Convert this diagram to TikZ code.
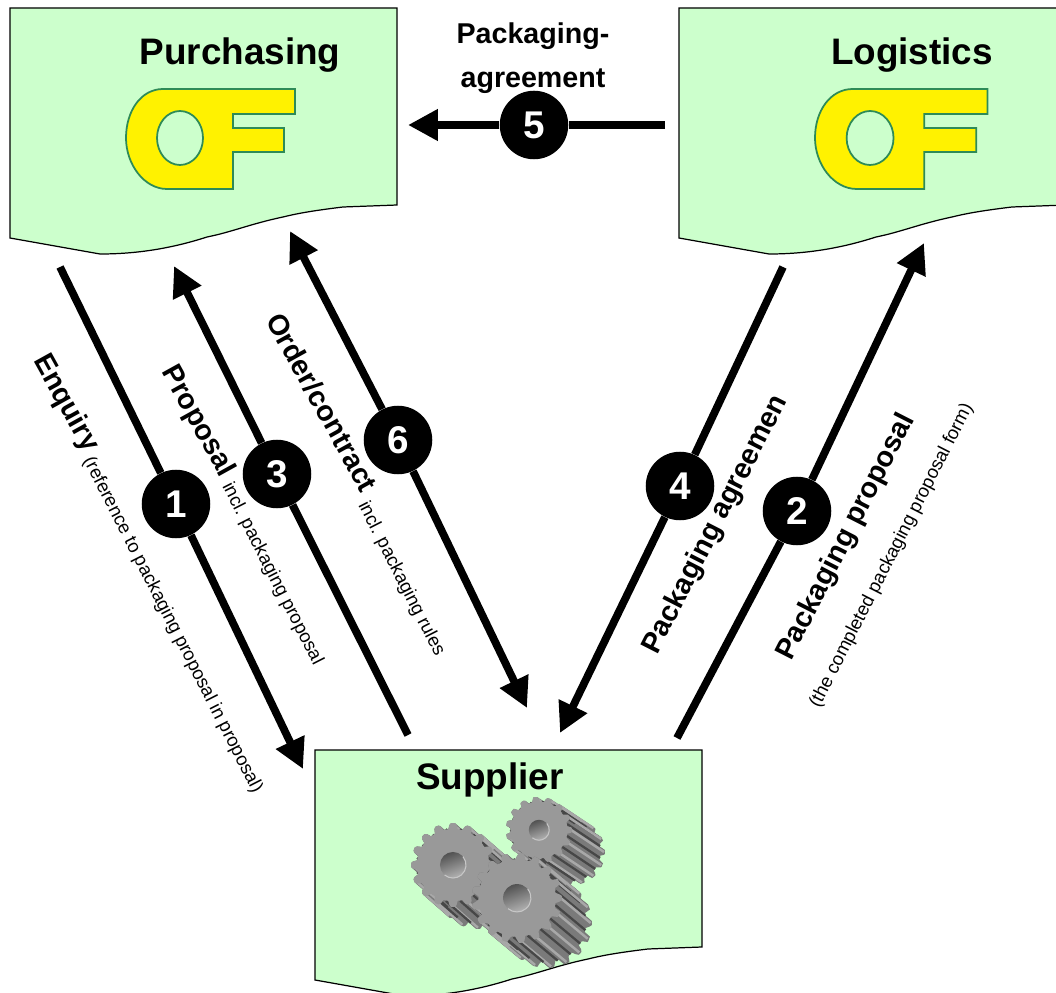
\documentclass[tikz,border=0pt]{standalone}
\usepackage{fontspec}
\setmainfont{Liberation Sans}
\usetikzlibrary{arrows.meta}
\definecolor{sheetgreen}{HTML}{CCFFCC}
\definecolor{logoyellow}{HTML}{FFF200}
\definecolor{logoedge}{HTML}{2E8B57}
\tikzset{
  flow/.style={line width=4.4pt,>={Triangle[length=17pt,width=17pt]}},
  numdot/.style={circle,fill=black,text=white,inner sep=0pt,minimum size=39pt,font=\fontsize{22}{24}\selectfont\bfseries},
  sheettitle/.style={font=\fontsize{21}{24}\selectfont\bfseries},
  flowlabel/.style={font=\fontsize{16.3}{18}\selectfont\bfseries,inner sep=0pt},
  flownote/.style={font=\fontsize{10.6}{13}\selectfont,inner sep=0pt},
  pics/docsheet/.style={code={
    \draw[fill=sheetgreen,line width=0.7pt] (0,0) -- (387,0) -- (387,197) -- (333,199)
      .. controls (300,203) and (285,206) .. (273,209)
      .. controls (240,216) and (222,224) .. (197,229)
      .. controls (160,241) and (125,246) .. (90,246) -- (0,230) -- cycle;
  }},
  pics/oflogo/.style={code={
    \draw[fill=logoyellow,draw=logoedge,line width=1pt,even odd rule] (169,0) -- (169,25) -- (107,25) -- (107,39)
      -- (158,39) -- (158,63) -- (107,63) -- (107,100) -- (41,100)
      .. controls (18,100) and (0,75) .. (0,49)
      .. controls (0,22) and (15,0) .. (37,0) -- cycle
      (54,49) ellipse [x radius=23,y radius=27];
  }},
  pics/gearwheel/.style args={#1/#2/#3/#4}{code={
    % back of the wheel, teeth as stripes
    \foreach \s in {0,0.04,...,1}
      \fill[black!52,shift={(\s*#3,\s*#4)}] plot[samples=145,domain=0:360] (\x:{#1*(0.93+0.07*max(-1,min(1,2.5*cos(#2*\x))))}) -- cycle;
    \foreach \a in {1,...,#2} {
      \draw[black!34,line width=1.4pt] (\a*360/#2:0.97*#1) -- +(#3,#4);
      \draw[black!72,line width=1.3pt] (\a*360/#2+180/#2:0.87*#1) -- +(#3,#4);
    }
    % front of the wheel
    \fill[black!40] plot[samples=145,domain=0:360] (\x:{#1*(0.93+0.07*max(-1,min(1,2.5*cos(#2*\x))))}) -- cycle;
    \shade[left color=black!68,right color=black!30,shading angle=20] (0,0) circle (0.31*#1);
    \draw[black!22,line width=0.6pt] (-40:0.31*#1) arc (-40:130:0.31*#1);
  }}
}
\begin{document}
\begin{tikzpicture}[x=0.02cm,y=-0.02cm,line cap=butt]
  \clip (0,0) rectangle (1056,993);

  % the three sheets
  \pic at (10,8) {docsheet};
  \pic at (679,8) {docsheet};
  \pic at (315,750) {docsheet};
  \pic at (126,89) {oflogo};
  \pic[xscale=1.02] at (815,89) {oflogo};

  \node[sheettitle] (purchasing) at (240,55) {Purchasing};
  \node[sheettitle] (logistics) at (912,55) {Logistics};
  \node[sheettitle] (supplier) at (490,780) {Supplier};

  % the gear wheels
  \pic at (539,830) {gearwheel={33/15/33/22}};
  \pic at (453,865) {gearwheel={42/16/25/22}};
  \pic at (517,898) {gearwheel={45/17/30/25}};

  % ends of the arrows
  \coordinate (enquirystart) at (60,267);
  \coordinate (enquiryend) at (303,769);
  \coordinate (proposalstart) at (408,735);
  \coordinate (proposalend) at (174,266);
  \coordinate (orderend) at (290,231);
  \coordinate (orderback) at (527,708);
  \coordinate (agreestart) at (783,267);
  \coordinate (agreeend) at (560,733);
  \coordinate (packstart) at (677,738);
  \coordinate (packend) at (924,243);
  \coordinate (fivestart) at (665,125);
  \coordinate (fiveend) at (408,125);

  % numbers on the arrows
  \node[numdot] (one) at (176,504) {1};
  \node[numdot] (two) at (797,511) {2};
  \node[numdot] (three) at (277,474) {3};
  \node[numdot] (four) at (680,486) {4};
  \node[numdot] (five) at (534,125) {5};
  \node[numdot] (six) at (398,440) {6};

  \draw[flow] (enquirystart) -- (one);
  \draw[flow,->] (one) -- (enquiryend);
  \draw[flow] (proposalstart) -- (three);
  \draw[flow,->] (three) -- (proposalend);
  \draw[flow,->] (six) -- (orderend);
  \draw[flow,->] (six) -- (orderback);
  \draw[flow] (agreestart) -- (four);
  \draw[flow,->] (four) -- (agreeend);
  \draw[flow] (packstart) -- (two);
  \draw[flow,->] (two) -- (packend);
  \draw[flow] (fivestart) -- (five);
  \draw[flow,->] (five) -- (fiveend);

  % labels along the arrows
  \node[flowlabel,align=center] (fivelabel) at (533,58) {Packaging-\\[7pt]agreement};
  \node[flowlabel,anchor=base west,rotate=-61] (enquirylabel) at (33,360) {Enquiry};
  \node[flownote,anchor=base west,rotate=-63] (enquirynote) at (83,460) {(reference to packaging proposal in proposal)};
  \node[flowlabel,anchor=base west,rotate=-61] (proposallabel) at (161,371) {Proposal};
  \node[flownote,anchor=base west,rotate=-63] (proposalnote) at (222,486) {incl. packaging proposal};
  \node[flowlabel,anchor=base west,rotate=-61] (orderlabel) at (265,320) {Order/contract};
  \node[flownote,anchor=base west,rotate=-63] (ordernote) at (358,505) {incl. packaging rules};
  \node[flowlabel,anchor=base west,rotate=63] (agreelabel) at (657,656) {Packaging agreemen};
  \node[flowlabel,anchor=base west,rotate=63] (packlabel) at (791,662) {Packaging proposal};
  \node[flownote,anchor=base west,rotate=63] (packnote) at (819,709) {(the completed packaging proposal form)};
\end{tikzpicture}
\end{document}
